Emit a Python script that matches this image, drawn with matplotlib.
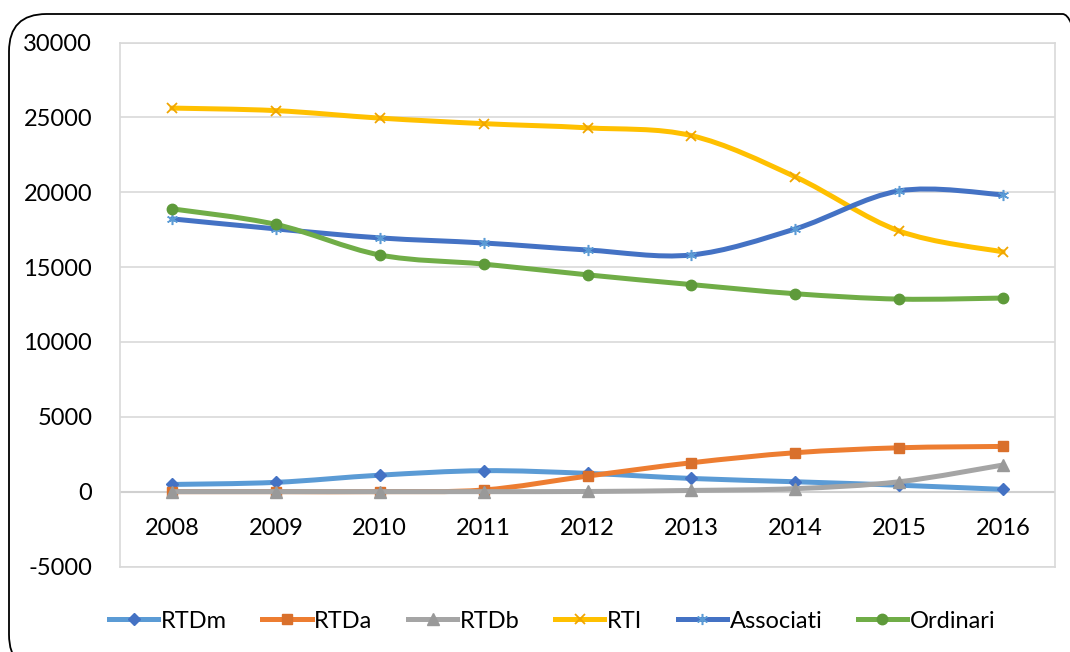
import numpy as np
import matplotlib
matplotlib.use("Agg")
import matplotlib.pyplot as plt
from matplotlib.path import Path
from matplotlib.patches import PathPatch, FancyBboxPatch
from matplotlib.lines import Line2D
import matplotlib.transforms as mtransforms

years = ["2008", "2009", "2010", "2011", "2012", "2013", "2014", "2015", "2016"]
rtdm = [480, 620, 1100, 1400, 1220, 880, 660, 430, 150]
rtda = [0, 0, 0, 110, 1040, 1930, 2600, 2930, 3020]
rtdb = [0, 0, 0, 0, 10, 80, 200, 660, 1780]
rti = [25620, 25450, 24950, 24580, 24300, 23780, 21030, 17410, 16010]
associati = [18220, 17550, 16950, 16610, 16140, 15810, 17550, 20090, 19830]
ordinari = [18890, 17850, 15810, 15200, 14480, 13830, 13220, 12860, 12930]
yticks = [-5000, 0, 5000, 10000, 15000, 20000, 25000, 30000]

series = [
    ("RTDm", rtdm, "#5B9BD5", "D", "#4472C4", 6.5, {}),
    ("RTDa", rtda, "#ED7D31", "s", "#D9702C", 7.5, {}),
    ("RTDb", rtdb, "#A5A5A5", "^", "#999999", 8, {}),
    ("RTI", rti, "#FFC000", "x", "#F0A500", 7, {"markeredgewidth": 1.3}),
    ("Associati", associati, "#4472C4", (6, 2, 0), "#5B9BD5", 8, {"markeredgewidth": 1.1}),
    ("Ordinari", ordinari, "#70AD47", "o", "#5E9A3A", 7.5, {}),
]

font = "Lato"
plt.rcParams["font.family"] = [font, "DejaVu Sans"]
FS = 17

W, H = 1070, 652
fig = plt.figure(figsize=(W / 100, H / 100), dpi=100)
fig.patch.set_facecolor("white")

# outer rounded border
border = FancyBboxPatch((9 / W, -20 / H), (1100 - 9) / W, (H - 14 + 20) / H,
                        boxstyle="round,pad=0,rounding_size=0.035",
                        transform=fig.transFigure, fill=False,
                        edgecolor="black", linewidth=1.3,
                        mutation_aspect=W / H)
fig.patches.append(border)

ax = fig.add_axes([120 / W, 1 - 566.5 / H, (1055 - 120) / W, (566.5 - 42.5) / H])
x = np.arange(len(years))
ax.set_xlim(-0.5, len(years) - 0.5)
ax.set_ylim(-5000, 30000)
ax.set_yticks(yticks)
ax.set_yticklabels([str(v) for v in yticks], fontsize=FS)
ax.tick_params(axis="y", length=0, pad=20)
ax.set_xticks([])
for sp in ax.spines.values():
    sp.set_color("#D9D9D9")
    sp.set_linewidth(1.2)
ax.grid(axis="y", color="#D9D9D9", linewidth=1.2)
ax.set_axisbelow(True)
ax.axhline(0, color="#D0D0D0", linewidth=1.5, zorder=1)

# category labels next to the zero axis
trans = mtransforms.offset_copy(ax.transData, fig=fig, x=0, y=-0.37, units="inches")
for i, yr in enumerate(years):
    ax.text(i, 0, yr, transform=trans, ha="center", va="center", fontsize=FS)


def smooth_path(xs, ys):
    xs = np.asarray(xs, float)
    ys = np.asarray(ys, float)
    n = len(xs)
    verts = [(xs[0], ys[0])]
    codes = [Path.MOVETO]
    for i in range(n - 1):
        p0 = (xs[max(i - 1, 0)], ys[max(i - 1, 0)])
        p1 = (xs[i], ys[i])
        p2 = (xs[i + 1], ys[i + 1])
        p3 = (xs[min(i + 2, n - 1)], ys[min(i + 2, n - 1)])
        c1 = (p1[0] + (p2[0] - p0[0]) / 6, p1[1] + (p2[1] - p0[1]) / 6)
        c2 = (p2[0] - (p3[0] - p1[0]) / 6, p2[1] - (p3[1] - p1[1]) / 6)
        verts += [c1, c2, p2]
        codes += [Path.CURVE4] * 3
    return Path(verts, codes)


handles = []
for z, (name, vals, col, mk, mcol, ms, extra) in enumerate(series):
    patch = PathPatch(smooth_path(x, vals), facecolor="none", edgecolor=col,
                      linewidth=3.6, capstyle="round", joinstyle="round", zorder=3 + z)
    ax.add_patch(patch)
    ax.plot(x, vals, linestyle="none", marker=mk, markersize=ms,
            markerfacecolor=mcol, markeredgecolor=mcol, zorder=3.5 + z, **extra)
    handles.append(Line2D([0], [0], color=col, linewidth=3.6, marker=mk,
                          markersize=ms, markerfacecolor=mcol,
                          markeredgecolor=mcol, **extra))

leg = fig.legend(handles, [s[0] for s in series], loc="center",
                 bbox_to_anchor=(552 / W, 1 - 621 / H), ncol=6, frameon=False,
                 fontsize=FS, handlelength=2.1, handletextpad=0.1,
                 columnspacing=1.5)

fig.savefig("out.png", dpi=100, facecolor="white")
